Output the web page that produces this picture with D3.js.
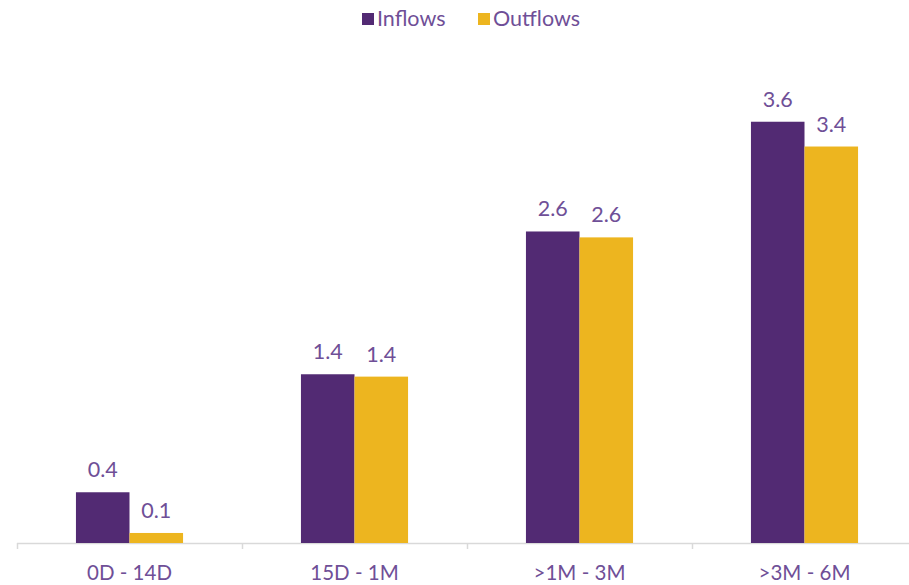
<!DOCTYPE html>
<html>
  <head>
    <meta charset="utf-8">
    <title>Inflows vs Outflows</title>
    <style>
      body { margin: 0; background: #fff; }
      text { font-family: Lato, "Open Sans", sans-serif; }
    </style>
  </head>
  <body>
  <svg id="chart"></svg>
  <script src="https://d3js.org/d3.v7.min.js"></script>
  <script>
    // data
    var categories = ["0D - 14D", "15D - 1M", ">1M - 3M", ">3M - 6M"];
    var seriesNames = ["Inflows", "Outflows"];
    var inflows = [0.43, 1.43, 2.64, 3.57];
    var outflows = [0.085, 1.41, 2.59, 3.36];
    var colors = ["#522a73", "#edb51f"];

    var width = 909, height = 585;
    var baseY = 543;

    var svg = d3.select("#chart")
      .attr("width", width)
      .attr("height", height);

    // category scale
    var x = d3.scaleBand()
      .domain(categories)
      .range([17, 917])
      .paddingInner(0.524)
      .paddingOuter(0.262);

    // series inside a group
    var xs = d3.scaleBand()
      .domain(seriesNames)
      .range([0, x.bandwidth()]);

    var y = d3.scaleLinear()
      .domain([0, 4])
      .range([baseY, baseY - 472]);

    var rows = categories.map(function(c, i) {
      return { cat: c, values: [
        { name: "Inflows", v: inflows[i] },
        { name: "Outflows", v: outflows[i] }
      ]};
    });

    //axis line
    svg.append("line")
      .attr("x1", 17).attr("x2", width)
      .attr("y1", baseY + 0.5).attr("y2", baseY + 0.5)
      .attr("stroke", "#d9d9d9")
      .attr("stroke-width", 1.5);

    // boundary ticks between categories
    var bounds = categories.map(function(c) { return x(c) - x.step() * x.paddingOuter(); });
    svg.selectAll(".tick")
      .data(bounds)
      .enter().append("line")
      .attr("x1", function(d) { return Math.round(d) + 0.5; })
      .attr("x2", function(d) { return Math.round(d) + 0.5; })
      .attr("y1", baseY)
      .attr("y2", baseY + 6)
      .attr("stroke", "#d9d9d9")
      .attr("stroke-width", 1.5);

    var groups = svg.selectAll(".grp")
      .data(rows)
      .enter().append("g")
      .attr("transform", function(d) { return "translate(" + x(d.cat) + ",0)"; });

    groups.selectAll("rect")
      .data(function(d) { return d.values; })
      .enter().append("rect")
      .attr("x", function(d) { return xs(d.name); })
      .attr("width", xs.bandwidth())
      .attr("y", function(d) { return y(d.v); })
      .attr("height", function(d) { return baseY - y(d.v); })
      .attr("fill", function(d, i) { return colors[i]; });

    // value labels
    groups.selectAll(".lbl")
      .data(function(d) { return d.values; })
      .enter().append("text")
      .attr("x", function(d) { return xs(d.name) + xs.bandwidth() / 2; })
      .attr("y", function(d) { return y(d.v) - 15; })
      .attr("text-anchor", "middle")
      .attr("font-size", 21.5)
      .attr("fill", "#6f4f97")
      .text(function(d) { return d3.format(".1f")(d.v); });

    // category labels
    svg.selectAll(".cat")
      .data(categories)
      .enter().append("text")
      .attr("x", function(d) { return x(d) + x.bandwidth() / 2; })
      .attr("y", 580)
      .attr("text-anchor", "middle")
      .attr("font-size", 20.5)
      .attr("fill", "#6f4f97")
      .text(function(d) { return d; });

    // legend
    var legendX = [362, 478];
    var legend = svg.selectAll(".leg")
      .data(seriesNames)
      .enter().append("g")
      .attr("transform", function(d, i) { return "translate(" + legendX[i] + ",13)"; });

    legend.append("rect")
      .attr("width", 12).attr("height", 12)
      .attr("fill", function(d, i) { return colors[i]; });

    legend.append("text")
      .attr("x", 15).attr("y", 13)
      .attr("font-size", 21.5)
      .attr("fill", "#6f4f97")
      .text(function(d) { return d; });
  </script>
  </body>
</html>
